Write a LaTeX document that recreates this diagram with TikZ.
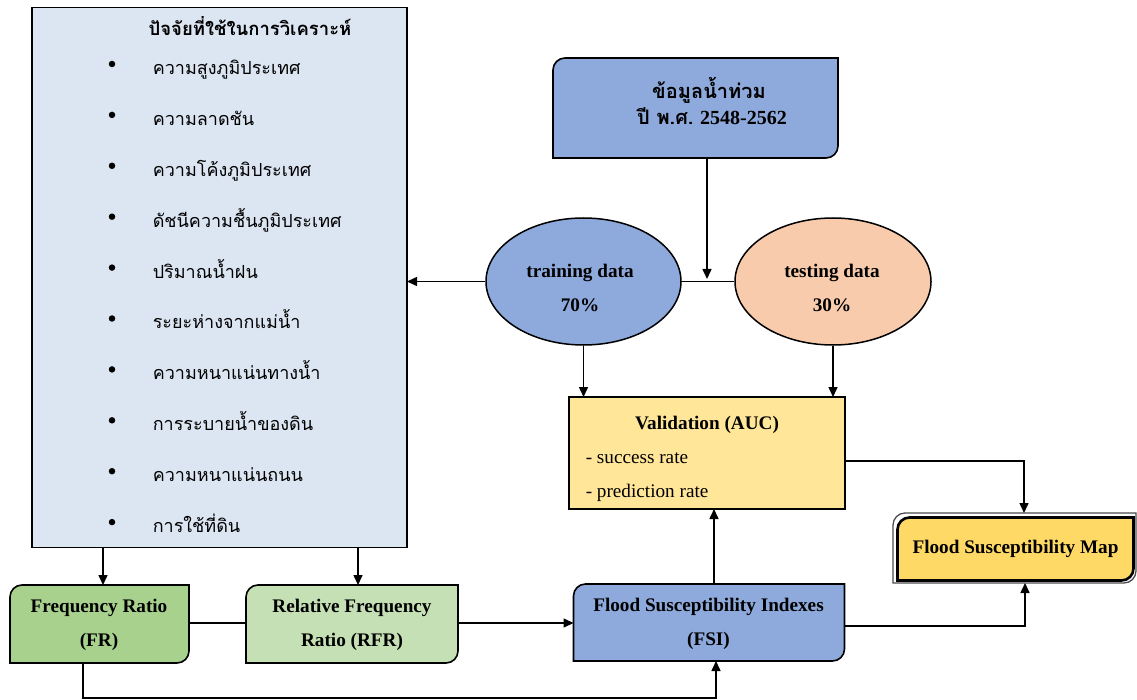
\documentclass[tikz,border=0pt]{standalone}
\usepackage{fontspec}
\setmainfont{Liberation Serif}
\newfontfamily\thai[Script=Thai]{Loma}
\usetikzlibrary{arrows.meta,shapes.geometric,backgrounds}
\definecolor{cfac}{HTML}{DCE6F2}
\definecolor{cblue}{HTML}{8EA9DB}
\definecolor{cpeach}{HTML}{F8CBAD}
\definecolor{cval}{HTML}{FFE699}
\definecolor{cmap}{HTML}{FFD966}
\definecolor{cfr}{HTML}{A9D18E}
\definecolor{crfr}{HTML}{C5E0B4}
\newcommand\cornerbox[2]{\path[#1] (#2.west) -- ([yshift=-12pt]#2.north west) .. controls ([yshift=-5.4pt]#2.north west) and ([xshift=5.4pt]#2.north west) .. ([xshift=12pt]#2.north west) -- (#2.north east) -- ([yshift=12pt]#2.south east) .. controls ([yshift=5.4pt]#2.south east) and ([xshift=-5.4pt]#2.south east) .. ([xshift=-12pt]#2.south east) -- (#2.south west) -- cycle;}
\begin{document}
\begin{tikzpicture}[x=1pt,y=-1pt,line width=1.5pt,
  conn/.style={-{Triangle[length=10pt,width=9pt]}},
  holder/.style={inner sep=0pt,outer sep=0pt},
  enb/.style={font=\fontsize{19.2}{34}\selectfont\bfseries,align=center,inner sep=0pt},
  enr/.style={font=\fontsize{19.2}{22}\selectfont,inner sep=0pt,anchor=base west},
  thitem/.style={font=\thai\fontsize{18}{20}\selectfont,anchor=base west,inner sep=0pt},
  dot/.style={circle,fill=black,inner sep=0pt,minimum size=6.5pt},
]
\useasboundingbox (0,0) rectangle (1137,700);

% factors box
\node[holder,draw,fill=cfac,minimum width=375pt,minimum height=540pt] (factors) at (219.5,277.5) {};
\node[font=\thai\bfseries\fontsize{18.5}{20}\selectfont,anchor=base,inner sep=0pt] (title) at (250,36) {ปัจจัยที่ใช้ในการวิเคราะห์};
\foreach \t [count=\i] in {ความสูงภูมิประเทศ,ความลาดชัน,ความโค้งภูมิประเทศ,ดัชนีความชื้นภูมิประเทศ,ปริมาณน้ำฝน,ระยะห่างจากแม่น้ำ,ความหนาแน่นทางน้ำ,การระบายน้ำของดิน,ความหนาแน่นถนน,การใช้ที่ดิน}{
  \node[dot] (d\i) at (112,{13.1+50.9*\i}) {};
  \node[thitem] (f\i) at (152,{23.6+50.9*\i}) {\t};
}

% flood data box
\node[holder,minimum width=285pt,minimum height=100pt] (flood) at (695.5,108) {};
\node[font=\thai\bfseries\fontsize{20}{26}\selectfont,anchor=base,inner sep=0pt] (floodA) at (709,99) {ข้อมูลน้ำท่วม};
\node[font=\bfseries\fontsize{20}{26}\selectfont,anchor=base,inner sep=0pt] (floodB) at (712,125) {{\thai ปี พ.ศ.} 2548-2562};

% ellipses
\node[ellipse,draw,fill=cblue,minimum width=195pt,minimum height=127pt,inner sep=0pt] (train) at (583.5,281.5) {};
\node[enb] (trainT) at (580,288) {training data\\70\%};
\node[ellipse,draw,fill=cpeach,minimum width=196pt,minimum height=127pt,inner sep=0pt] (test) at (833,281.5) {};
\node[enb] (testT) at (832,288) {testing data\\30\%};

% validation
\node[holder,draw,fill=cval,minimum width=276pt,minimum height=112pt] (valid) at (707,453) {};
\node[font=\fontsize{19.2}{22}\selectfont\bfseries,anchor=base,inner sep=0pt] (validT) at (707,429) {Validation (AUC)};
\node[enr] (succ) at (585,463) {- success rate};
\node[enr] (pred) at (585,497) {- prediction rate};

% map
\node[holder,minimum width=243pt,minimum height=70pt] (mapouter) at (1014.5,548) {};
\node[holder,minimum width=236pt,minimum height=63pt,font=\fontsize{19.2}{22}\selectfont\bfseries] (map) at (1015.5,549) {Flood Susceptibility Map};

% FSI
\node[holder,minimum width=271pt,minimum height=77pt] (fsi) at (709,622.5) {};
\node[enb] (fsiT) at (708.5,624) {Flood Susceptibility Indexes\\(FSI)};

% FR / RFR
\node[holder,minimum width=179pt,minimum height=78pt] (fr) at (99.5,624) {};
\node[enb] (frT) at (99,625) {Frequency Ratio\\(FR)};
\node[holder,minimum width=212pt,minimum height=78pt] (rfr) at (352,624) {};
\node[enb] (rfrT) at (352,625) {Relative Frequency\\Ratio (RFR)};

\begin{scope}[on background layer]
  \cornerbox{draw,fill=cblue,line width=1.6pt}{flood}
  \cornerbox{draw,fill=cblue,line width=1.6pt}{fsi}
  \cornerbox{draw,fill=cfr,line width=1.6pt}{fr}
  \cornerbox{draw,fill=crfr,line width=1.6pt}{rfr}
  \cornerbox{draw=black!70,fill=white,line width=1.3pt}{mapouter}
  \cornerbox{draw,fill=cmap,line width=2.6pt}{map}
\end{scope}

% connectors
\coordinate (split) at (707,279);
\draw[conn] (flood.south -| split) -- (split);
\draw (train.east) -- (test.west);
\draw[conn] (train.west) -- (factors.east |- train.west);
\draw[conn] (train.south) -- (valid.north -| train.south);
\draw[conn] (test.south) -- (valid.north -| test.south);
\coordinate (vm) at (1024,461);
\draw[conn] (valid.east |- vm) -- (vm) -- (mapouter.north -| vm);
\coordinate (fx) at (714,0);
\draw[conn] (fsi.north -| fx) -- (valid.south -| fx);
\coordinate (fm) at (1025,626);
\draw[conn] (fsi.east |- fm) -- (fm) -- (mapouter.south -| fm);
\coordinate (ry) at (0,623);
\draw (fr.east |- ry) -- (rfr.west |- ry);
\draw[conn] (rfr.east |- ry) -- (fsi.west |- ry);
\coordinate (a1) at (103,0);
\coordinate (a2) at (358,0);
\draw[conn] (factors.south -| a1) -- (fr.north -| a1);
\draw[conn] (factors.south -| a2) -- (rfr.north -| a2);
\coordinate (lb) at (83,698);
\coordinate (fx2) at (716,0);
\draw[conn] (fr.south -| lb) -- (lb) -- (lb -| fx2) -- (fsi.south -| fx2);
\end{tikzpicture}
\end{document}
